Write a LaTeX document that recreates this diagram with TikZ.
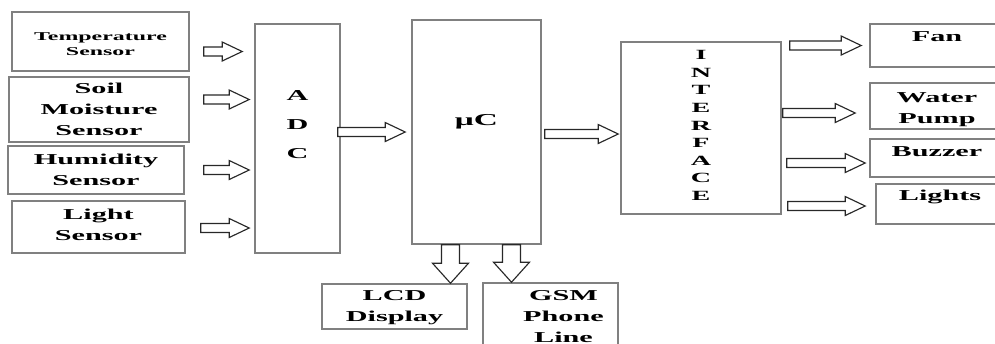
\documentclass[tikz,border=0pt]{standalone}
\usepackage{fontspec}
\newfontfamily\wide[FakeStretch=2.0]{Liberation Serif}
\usepackage{tikz}
\usetikzlibrary{positioning}
\usetikzlibrary{calc}
\usetikzlibrary{fit}
\definecolor{boxgray}{RGB}{128,128,128}
\definecolor{arrowgray}{RGB}{40,40,40}

\tikzset{
  box/.style={draw=boxgray, line width=0.9pt, fill=white, inner sep=0pt},
  txt/.style={align=center, inner sep=0pt, font=\wide\bfseries\fontsize{8.6}{12}\selectfont},
  % block arrow, left to right
  harrow/.style={draw=arrowgray, line width=0.65pt, fill=white,
    to path={let \p1=(\tikztostart), \p2=(\tikztotarget) in
      (\x1,\y1+0.09cm) -- (\x2-0.4cm,\y1+0.09cm) -- (\x2-0.4cm,\y1+0.19cm) -- (\x2,\y1)
      -- (\x2-0.4cm,\y1-0.19cm) -- (\x2-0.4cm,\y1-0.09cm) -- (\x1,\y1-0.09cm) -- cycle}},
  % block arrow, top to bottom
  varrow/.style={draw=arrowgray, line width=0.65pt, fill=white,
    to path={let \p1=(\tikztostart), \p2=(\tikztotarget) in
      (\x1-0.18cm,\y1) -- (\x1-0.18cm,\y2+0.4cm) -- (\x1-0.36cm,\y2+0.4cm) -- (\x1,\y2)
      -- (\x1+0.36cm,\y2+0.4cm) -- (\x1+0.18cm,\y2+0.4cm) -- (\x1+0.18cm,\y1) -- cycle}}
}

\begin{document}
\begin{tikzpicture}[x=0.02cm, y=-0.02cm]
\useasboundingbox (0,0) rectangle (995,343);

%====================================================
% Sensors
%====================================================
\node[box, fit={(12,12) (189,71)},
  label={[txt, font=\wide\bfseries\fontsize{6.8}{8.5}\selectfont, yshift=-0.05cm]center:Temperature\\Sensor}] (temp) {};
\node[box, fit={(9,77) (189,142)},
  label={[txt]center:Soil\\Moisture\\Sensor}] (soil) {};
\node[box, fit={(8,146) (184,194)},
  label={[txt]center:Humidity\\Sensor}] (humid) {};
\node[box, fit={(12,201) (185,253)},
  label={[txt, yshift=0.05cm]center:Light\\Sensor}] (light) {};

%====================================================
% ADC, controller, interface
%====================================================
\node[box, fit={(255,24) (340,253)},
  label={[txt, font=\wide\bfseries\fontsize{8.6}{16.5}\selectfont, yshift=0.27cm]center:A\\D\\C}] (adc) {};
\node[box, fit={(412,20) (541,244)},
  label={[txt, font=\wide\bfseries\fontsize{9.5}{12}\selectfont, yshift=0.2cm]center:μC}] (uc) {};
\node[box, fit={(621,42) (781,214)},
  label={[txt, font=\wide\bfseries\fontsize{8}{10}\selectfont, yshift=0.05cm]center:I\\N\\T\\E\\R\\F\\A\\C\\E}] (iface) {};

%====================================================
% Outputs
%====================================================
\node[box, fit={(870,24) (1004,67)},
  label={[txt, anchor=center, yshift=-0.26cm]north:Fan}] (fan) {};
\node[box, fit={(870,83) (1004,129)},
  label={[txt, yshift=-0.07cm]center:Water\\Pump}] (pump) {};
\node[box, fit={(870,139) (1004,177)},
  label={[txt, anchor=center, yshift=-0.26cm]north:Buzzer}] (buzz) {};
\node[box, fit={(876,184) (1004,224)},
  label={[txt, anchor=center, yshift=-0.28cm]north:Lights}] (lights) {};

\node[box, fit={(322,284) (467,329)},
  label={[txt, yshift=-0.02cm]center:LCD\\Display}] (lcd) {};
\node[box, fit={(483,283) (618,370)},
  label={[txt, anchor=center, xshift=0.26cm, yshift=-0.68cm]north:GSM\\Phone\\Line}] (gsm) {};

%====================================================
% Block arrows
%====================================================
\draw[harrow] ($(temp.east)+(14,10)$)  to ($(temp.east-|adc.west)+(-12,10)$);
\draw[harrow] ($(soil.east)+(14,-10)$) to ($(soil.east-|adc.west)+(-5,-10)$);
\draw[harrow] ($(humid.east)+(19,0)$)  to ($(humid.east-|adc.west)+(-5,0)$);
\draw[harrow] ($(light.east)+(15,1)$)  to ($(light.east-|adc.west)+(-5,1)$);

\draw[harrow] ($(adc.east|-uc.west)+(-3,0)$) to ($(uc.west)+(-6,0)$);
\draw[harrow] ($(uc.east)+(3,2)$) to ($(iface.west|-uc.east)+(-2,2)$);

\draw[harrow] ($(fan.west-|iface.east)+(8,0)$)    to ($(fan.west)+(-8,0)$);
\draw[harrow] ($(pump.west-|iface.east)+(1,7)$)   to ($(pump.west)+(-14,7)$);
\draw[harrow] ($(buzz.west-|iface.east)+(5,5)$)   to ($(buzz.west)+(-4,5)$);
\draw[harrow] ($(lights.west-|iface.east)+(6,2)$) to ($(lights.west)+(-10,2)$);

\draw[varrow] ($(uc.south)+(-26,0)$) to (lcd.north);
\draw[varrow] ($(uc.south)+(35,0)$)  to (gsm.north);

\end{tikzpicture}
\end{document}
